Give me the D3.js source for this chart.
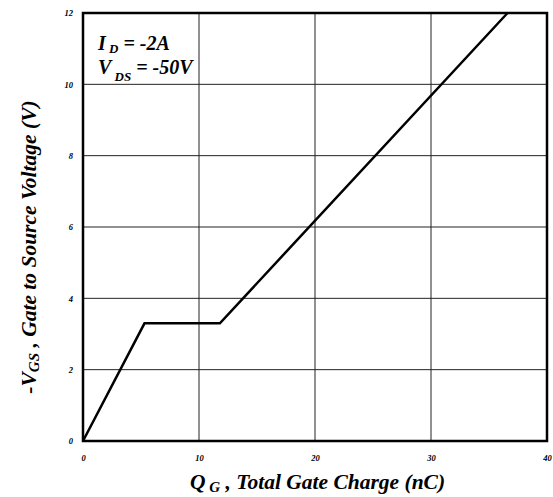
<!DOCTYPE html>
<html>
<head>
<meta charset="utf-8">
<script src="https://cdn.jsdelivr.net/npm/d3@7"></script>
<style>
  body { margin: 0; background: #fff; }
  svg text { font-family: "Liberation Serif", "Times New Roman", serif; font-weight: bold; font-style: italic; }
</style>
</head>
<body>
<div id="chart"></div>
<script>
// gate charge curve: Qg (nC) vs -Vgs (V)
const qg = [0, 5.3, 11.8, 36.6];
const vgs = [0, 3.3, 3.3, 12];
const xTicks = [0, 10, 20, 30, 40];
const yTicks = [0, 2, 4, 6, 8, 10, 12];

const W = 553, H = 497;
const margin = { top: 13, right: 6, bottom: 56, left: 83 };
const width = W - margin.left - margin.right;
const height = H - margin.top - margin.bottom;

const svg = d3.select("#chart").append("svg")
    .attr("width", W)
    .attr("height", H);

const g = svg.append("g")
    .attr("transform", `translate(${margin.left},${margin.top})`);

const x = d3.scaleLinear().domain([0, 40]).range([0, width]);
const y = d3.scaleLinear().domain([0, 12]).range([height, 0]);

// grid
g.append("g").selectAll("line").data(xTicks.slice(1, -1)).join("line")
    .attr("x1", d => x(d)).attr("x2", d => x(d))
    .attr("y1", 0).attr("y2", height)
    .attr("stroke", "#222").attr("stroke-width", 1);

g.append("g").selectAll("line").data(yTicks.slice(1, -1)).join("line")
    .attr("y1", d => y(d)).attr("y2", d => y(d))
    .attr("x1", 0).attr("x2", width)
    .attr("stroke", "#222").attr("stroke-width", 1);

// axes (labels only, frame drawn separately)
const xAxis = g.append("g")
    .attr("transform", `translate(0,${height})`)
    .call(d3.axisBottom(x).tickValues(xTicks).tickSize(0).tickPadding(14));
const yAxis = g.append("g")
    .call(d3.axisLeft(y).tickValues(yTicks).tickSize(0).tickPadding(10));
[xAxis, yAxis].forEach(a => {
    a.select(".domain").remove();
    a.selectAll("text").style("font-size", "8.5px").attr("fill", "#000");
});

// frame
g.append("rect")
    .attr("width", width).attr("height", height)
    .attr("fill", "none").attr("stroke", "#000").attr("stroke-width", 2.5);

// curve
const pts = qg.map((q, i) => [q, vgs[i]]);
g.append("path")
    .datum(pts)
    .attr("fill", "none")
    .attr("stroke", "#000")
    .attr("stroke-width", 2.5)
    .attr("stroke-linejoin", "miter")
    .attr("d", d3.line().x(d => x(d[0])).y(d => y(d[1])));

// conditions
const cond = g.append("g").style("font-size", "20px");
const t1 = cond.append("text").attr("x", 15).attr("y", 37);
t1.append("tspan").text("I");
t1.append("tspan").attr("dy", 3).style("font-size", "13px").text(" D");
t1.append("tspan").attr("dy", -3).text(" = -2A");
const t2 = cond.append("text").attr("x", 15).attr("y", 61);
t2.append("tspan").text("V");
t2.append("tspan").attr("dy", 7).style("font-size", "13px").text(" DS");
t2.append("tspan").attr("dy", -7).text(" = -50V");

// axis titles
const xt = svg.append("text")
    .attr("x", 190)
    .attr("y", 489)
    .style("font-size", "21.5px");
xt.append("tspan").text("Q");
xt.append("tspan").attr("dy", 3).style("font-size", "15px").text(" G");
xt.append("tspan").attr("dy", -3).text(" , Total Gate Charge (nC)");

const yt = svg.append("text")
    .attr("transform", `translate(36,247) rotate(-90)`)
    .attr("text-anchor", "middle")
    .style("font-size", "21.5px");
yt.append("tspan").text("-V");
yt.append("tspan").attr("dy", 3).style("font-size", "15px").text("GS");
yt.append("tspan").attr("dy", -3).text(" , Gate to Source Voltage (V)");
</script>
</body>
</html>
